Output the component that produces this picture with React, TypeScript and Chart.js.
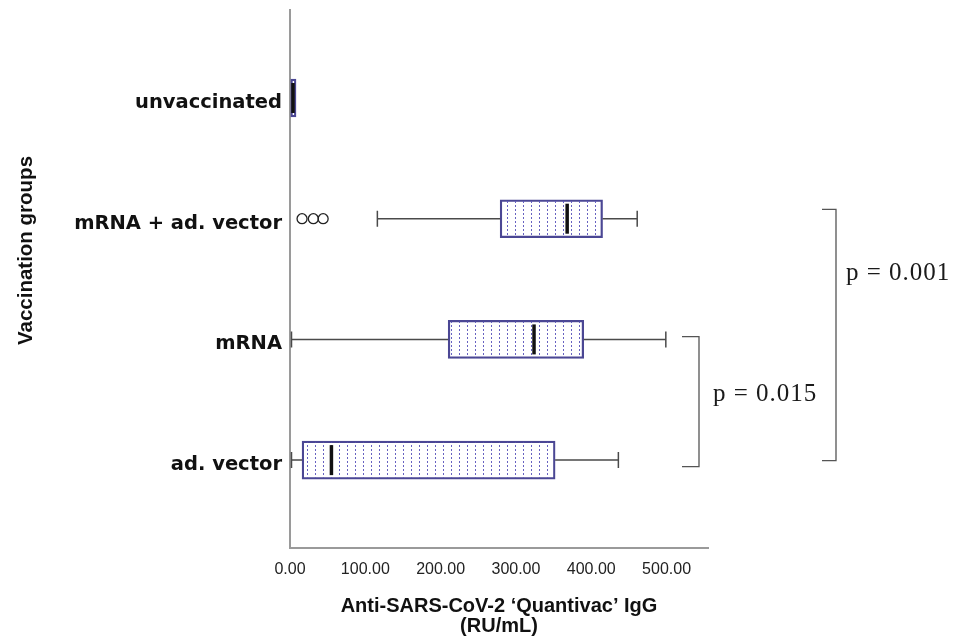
import React, { useEffect, useRef } from 'react';
import { Chart, registerables } from 'chart.js';

Chart.register(...registerables);

// ---- data ----
const categories = ['unvaccinated', 'mRNA + ad. vector', 'mRNA', 'ad. vector'];
const whiskerLow = [0, 116, 2, 2];
const quartile1 = [1, 279, 210, 16];
const medians = [4, 368, 324, 55];
const quartile3 = [8, 415, 390, 352];
const whiskerHigh = [9, 461, 499, 436];
const outlierValues = [16, 31, 44];
const outlierGroups = [1, 1, 1];
const xTickValues = [0, 100, 200, 300, 400, 500];
const xMax = 555;
const comparisons = [
  { from: 2, to: 3, label: 'p = 0.015' },
  { from: 1, to: 3, label: 'p = 0.001' },
];
const xTitle = ['Anti-SARS-CoV-2 \u2018Quantivac\u2019 IgG', '(RU/mL)'];
const yTitle = 'Vaccination groups';

// ---- annotation geometry (pixels) ----
const bracketGeom = [
  { x: 699, arm: 17, top: -2.7, bottom: 6.6, tx: 713, ty: -7.7 },
  { x: 836, arm: 14, top: -9.4, bottom: 0.6, tx: 846, ty: -62 },
];

const boxPlugin = {
  id: 'boxExtras',
  afterDatasetsDraw(chart: any) {
    const { ctx } = chart;
    const x = chart.scales.x;
    const y = chart.scales.y;
    ctx.save();
    categories.forEach((_, i) => {
      const cy = y.getPixelForValue(i);
      const lo = x.getPixelForValue(whiskerLow[i]);
      const b1 = x.getPixelForValue(quartile1[i]);
      const b3 = x.getPixelForValue(quartile3[i]);
      const hi = x.getPixelForValue(whiskerHigh[i]);
      const md = x.getPixelForValue(medians[i]);
      ctx.strokeStyle = '#4a4a4a';
      ctx.lineWidth = 1.5;
      ctx.beginPath();
      if (b1 - lo > 1) {
        ctx.moveTo(lo, cy);
        ctx.lineTo(b1, cy);
        ctx.moveTo(lo, cy - 8);
        ctx.lineTo(lo, cy + 8);
      }
      if (hi - b3 > 1) {
        ctx.moveTo(b3, cy);
        ctx.lineTo(hi, cy);
        ctx.moveTo(hi, cy - 8);
        ctx.lineTo(hi, cy + 8);
      }
      ctx.stroke();
      ctx.strokeStyle = '#111';
      ctx.lineWidth = 3.5;
      ctx.beginPath();
      ctx.moveTo(md, cy - 15);
      ctx.lineTo(md, cy + 15);
      ctx.stroke();
    });
    ctx.restore();
  },
  afterDraw(chart: any) {
    const { ctx } = chart;
    const y = chart.scales.y;
    ctx.save();
    comparisons.forEach((c, k) => {
      const g = bracketGeom[k];
      const top = y.getPixelForValue(c.from) + g.top;
      const bot = y.getPixelForValue(c.to) + g.bottom;
      ctx.strokeStyle = '#555';
      ctx.lineWidth = 1.3;
      ctx.beginPath();
      ctx.moveTo(g.x - g.arm, top);
      ctx.lineTo(g.x, top);
      ctx.lineTo(g.x, bot);
      ctx.lineTo(g.x - g.arm, bot);
      ctx.stroke();
      ctx.fillStyle = '#1a1a1a';
      ctx.font = '25px "Liberation Serif"';
      try { (ctx as any).letterSpacing = '1px'; } catch (e) {}
      ctx.textAlign = 'left';
      ctx.textBaseline = 'middle';
      ctx.fillText(c.label, g.tx, (top + bot) / 2 + g.ty);
      try { (ctx as any).letterSpacing = '0px'; } catch (e) {}
    });
    ctx.translate(26, 250.5);
    ctx.rotate(-Math.PI / 2);
    ctx.font = 'bold 20.5px "Liberation Sans"';
    ctx.fillStyle = '#111';
    ctx.textAlign = 'center';
    ctx.textBaseline = 'middle';
    ctx.fillText(yTitle, 0, 0);
    ctx.restore();
  },
};

export default function App() {
  const ref = useRef<HTMLCanvasElement>(null);
  useEffect(() => {
    if (!ref.current) return;
    const tile = document.createElement('canvas');
    tile.width = 8;
    tile.height = 4;
    const tctx = tile.getContext('2d')!;
    tctx.fillStyle = 'rgba(95,90,190,0.95)';
    tctx.fillRect(3, 1, 1, 2);
    const pattern = ref.current.getContext('2d')!.createPattern(tile, 'repeat');

    const chart = new Chart(ref.current, {
      type: 'bar',
      data: {
        datasets: [
          {
            type: 'bar',
            indexAxis: 'y',
            data: categories.map((_, i) => ({ y: i, x: [quartile1[i], quartile3[i]] })),
            backgroundColor: pattern as any,
            borderColor: '#4b4794',
            borderWidth: 1.6,
            borderSkipped: false,
            barThickness: 38,
          } as any,
          {
            type: 'scatter',
            data: outlierValues.map((v, i) => ({ x: v, y: outlierGroups[i] })),
            pointStyle: 'circle',
            pointRadius: 5,
            pointBackgroundColor: 'rgba(255,255,255,0)',
            pointBorderColor: '#222',
            pointBorderWidth: 1.3,
          } as any,
        ],
      },
      options: {
        responsive: false,
        animation: false,
        layout: { padding: { top: 10, right: 252, left: 0, bottom: 0 } },
        plugins: { legend: { display: false }, tooltip: { enabled: false } },
        scales: {
          x: {
            type: 'linear',
            offset: false,
            min: 0,
            max: xMax,
            grid: { display: false, drawTicks: false, offset: false },
            border: { display: true, color: '#9a9a9a', width: 2 },
            afterBuildTicks: (s: any) => {
              s.ticks = xTickValues.map((v) => ({ value: v }));
            },
            afterFit: (s: any) => {
              s.height = 93;
              s.paddingLeft = 0;
              s.paddingRight = 0;
            },
            ticks: {
              padding: 12,
              color: '#222',
              font: { family: 'Liberation Sans', size: 16 },
              callback: (v: any) => Number(v).toFixed(2),
              maxRotation: 0,
              autoSkip: false,
            },
            title: {
              display: true,
              text: xTitle,
              color: '#111',
              font: { family: 'Liberation Sans', size: 20, weight: 'bold', lineHeight: 1 },
              padding: { top: 0, bottom: 5 },
            },
          },
          y: {
            type: 'linear',
            offset: false,
            reverse: true,
            min: -0.729,
            max: 3.728,
            grid: { display: false, drawTicks: false, offset: false },
            border: { display: true, color: '#9a9a9a', width: 2 },
            afterBuildTicks: (s: any) => {
              s.ticks = categories.map((_, i) => ({ value: i }));
            },
            afterFit: (s: any) => {
              s.width = 290;
              s.paddingTop = 0;
              s.paddingBottom = 0;
            },
            ticks: {
              padding: 8,
              labelOffset: 5,
              color: '#111',
              autoSkip: false,
              font: { family: 'DejaVu Sans', size: 19.5, weight: 'bold' },
              callback: (v: any) => categories[Number(v)] ?? '',
            },
          },
        },
      },
      plugins: [boxPlugin],
    });
    return () => chart.destroy();
  }, []);
  return (
    <div style={{ position: 'absolute', left: 0, top: 0, width: 960, height: 641, background: '#fff' }}>
      <canvas ref={ref} width={960} height={641} style={{ display: 'block' }} />
    </div>
  );
}
